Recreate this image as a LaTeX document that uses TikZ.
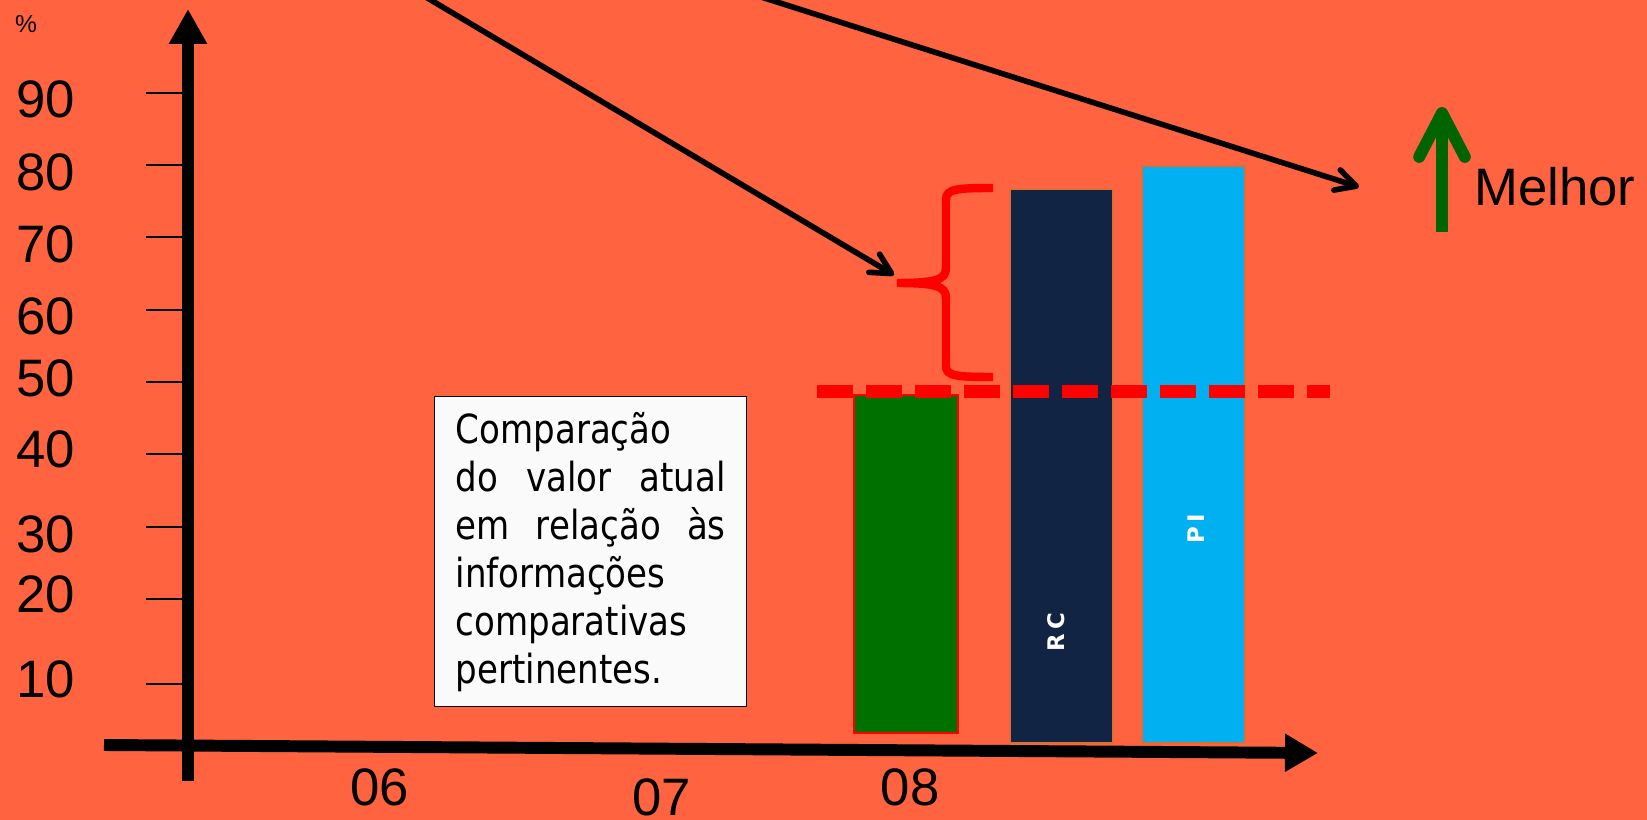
\documentclass[tikz,border=0pt]{standalone}
\usepackage{fontspec}
\setmainfont{Liberation Sans}
\newfontfamily\boxfont[FakeStretch=0.85]{DejaVu Sans}
\newfontfamily\barfont{DejaVu Sans}
\usetikzlibrary{arrows.meta}
\usetikzlibrary{positioning}
\definecolor{bgorange}{RGB}{255,99,63}
\definecolor{barGreen}{RGB}{0,112,0}
\definecolor{barNavy}{RGB}{17,36,68}
\definecolor{barCyan}{RGB}{0,176,240}
\definecolor{barEdge}{RGB}{222,110,50}
\definecolor{upGreen}{RGB}{0,100,0}
\definecolor{boxWhite}{RGB}{250,250,250}

\begin{document}
\begin{tikzpicture}[x=0.02cm,y=-0.02cm,font=\fontsize{30}{36}\selectfont]
	\tikzstyle{axis}=[line width=6.8pt]
	\tikzstyle{tick}=[line width=0.85pt]
	\tikzstyle{pointer}=[line width=3.2pt,-{Straight Barb[round,length=11.5pt,width=12pt]}]
	\tikzstyle{bar}=[line width=0.6pt]
	\tikzstyle{yearlabel}=[inner sep=0pt]
	\tikzstyle{barlabel}=[text=white,font=\barfont\bfseries\fontsize{13}{15}\selectfont,rotate=90]
	
	\fill[bgorange] (0,0) rectangle (1647,820);
	\useasboundingbox (0,0) rectangle (1647,820);
	
	\node[inner sep=0pt,font=\fontsize{14}{16}\selectfont] (pct) at (26,24) {\%};
	\foreach \v/\ty/\ly in {90/93/99,80/165/172,70/237/244,60/310/316,50/382/378,
		40/454/449,30/527/534,20/599/594,10/684/679}{
		\draw[tick] (146,\ty) -- (188,\ty);
		\node[anchor=east,inner sep=0pt] (y\v) at (75,\ly) {\v};
	}
	
	\coordinate (ybot) at (188,781);
	\coordinate (ytop) at (188,9);
	\coordinate (xleft) at (104,745);
	\coordinate (xright) at (1318,753);
	\draw[axis,-{Triangle[length=19.9pt,width=20.5pt]}] (ybot) -- (ytop);
	\draw[axis,-{Triangle[length=18.8pt,width=20.5pt]}] (xleft) -- (xright);
	
	\node[yearlabel] (x06) at (380,787) {06};
	\node[yearlabel] (x07) at (662,797) {07};
	\node[yearlabel] (x08) at (910,787) {08};
	
	\node[draw=black,fill=boxWhite,line width=0.85pt,anchor=north west,text width=5.4cm,
		inner xsep=0.42cm,minimum height=6.2cm,align=left,
		font=\boxfont\fontsize{22.8}{27.3}\selectfont] (nota) at (434,396)
		{Comparação\\do\hfill valor\hfill atual\\em\hfill relação\hfill às\\informações\\comparativas\\pertinentes.};
	
	\filldraw[bar,fill=barGreen,draw=red] (854,395) rectangle (958,733);
	\filldraw[bar,fill=barNavy,draw=barEdge] (1010,189) rectangle (1113,743);
	\filldraw[bar,fill=barCyan,draw=barEdge] (1142,166) rectangle (1245,743);
	\node[barlabel] (rc) at (1056,632) {R\,C};
	\node[barlabel] (pi) at (1196,529) {P\,I};
	
	\coordinate (metaL) at (817,391.5);
	\coordinate (metaR) at (1330,391.5);
	\draw[red,line width=7.1pt,dash pattern=on 20.5pt off 7.4pt] (metaL) -- (metaR);
	
	\coordinate (bracetip) at (897,283);
	\draw[red,line width=4.8pt] (993,188) .. controls (956,188) and (946,189) .. (946,200)
		-- (946,268) .. controls (946,280) and (935,283) .. (bracetip)
		.. controls (935,283) and (946,286) .. (946,298)
		-- (946,366) .. controls (946,376) and (956,377) .. (993,377);
	
	\coordinate (srcL) at (424,-4);
	\coordinate (tipL) at (894,275);
	\coordinate (srcR) at (758,-4);
	\coordinate (tipR) at (1359,187);
	\draw[pointer] (srcL) -- (tipL);
	\draw[pointer] (srcR) -- (tipR);
	
	\coordinate (upbot) at (1442,232);
	\coordinate (uptop) at (1442,107);
	\draw[upGreen,line width=6.8pt,-{Straight Barb[round,length=25pt,width=26pt]}] (upbot) -- (uptop);
	\node[anchor=west,inner sep=0pt] (melhor) at (1474,187) {Melhor};
\end{tikzpicture}
\end{document}
